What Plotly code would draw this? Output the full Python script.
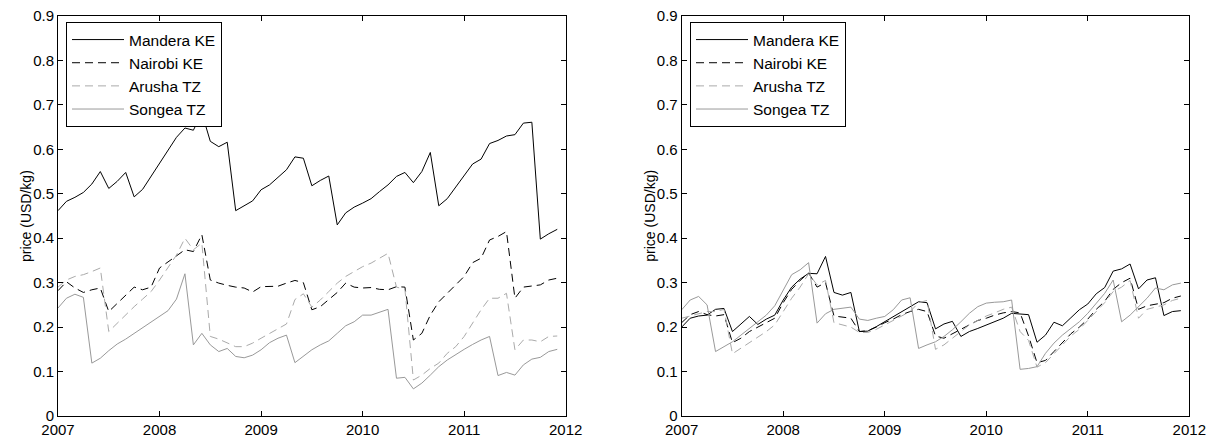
import plotly.graph_objects as go

# monthly observations Jan 2007 .. Dec 2011
months = [2007 + m / 12 for m in range(60)]
series_names = ["Mandera KE", "Nairobi KE", "Arusha TZ", "Songea TZ"]
x_tick_vals = [2007, 2008, 2009, 2010, 2011, 2012]
x_tick_text = ["2007", "2008", "2009", "2010", "2011", "2012"]
y_tick_vals = [0, 0.1, 0.2, 0.3, 0.4, 0.5, 0.6, 0.7, 0.8, 0.9]
y_tick_text = ["0", "0.1", "0.2", "0.3", "0.4", "0.5", "0.6", "0.7", "0.8", "0.9"]

# left panel
mandera_left = [0.462, 0.483, 0.492, 0.503, 0.522, 0.55, 0.512, 0.528, 0.548, 0.493,
                0.51, 0.539, 0.57, 0.597, 0.627, 0.648, 0.643, 0.682, 0.618, 0.606,
                0.616, 0.462, 0.473, 0.484, 0.509, 0.52, 0.537, 0.554, 0.583, 0.58,
                0.518, 0.53, 0.54, 0.43, 0.457, 0.47, 0.479, 0.489, 0.505, 0.52,
                0.539, 0.548, 0.525, 0.55, 0.593, 0.473, 0.489, 0.515, 0.539, 0.567,
                0.578, 0.613, 0.62, 0.63, 0.633, 0.659, 0.661, 0.398, 0.41, 0.42]
nairobi_left = [0.282, 0.302, 0.288, 0.278, 0.284, 0.288, 0.235, 0.254, 0.272, 0.29,
                0.284, 0.29, 0.333, 0.347, 0.362, 0.374, 0.37, 0.408, 0.306, 0.299,
                0.294, 0.29, 0.288, 0.279, 0.291, 0.292, 0.292, 0.299, 0.305, 0.30,
                0.239, 0.246, 0.261, 0.278, 0.299, 0.29, 0.288, 0.289, 0.285, 0.284,
                0.291, 0.29, 0.171, 0.186, 0.227, 0.257, 0.276, 0.295, 0.314, 0.345,
                0.355, 0.396, 0.404, 0.415, 0.265, 0.29, 0.293, 0.295, 0.306, 0.31]
arusha_left = [0.29, 0.306, 0.314, 0.318, 0.325, 0.333, 0.19, 0.209, 0.227, 0.246,
               0.263, 0.28, 0.306, 0.333, 0.362, 0.40, 0.374, 0.389, 0.179, 0.173,
               0.164, 0.156, 0.156, 0.164, 0.175, 0.186, 0.197, 0.207, 0.262, 0.275,
               0.245, 0.261, 0.28, 0.299, 0.314, 0.325, 0.336, 0.344, 0.355, 0.366,
               0.29, 0.285, 0.081, 0.092, 0.107, 0.119, 0.141, 0.156, 0.179, 0.209,
               0.239, 0.265, 0.265, 0.276, 0.149, 0.171, 0.171, 0.167, 0.179, 0.18]
songea_left = [0.243, 0.265, 0.274, 0.267, 0.119, 0.13, 0.147, 0.162, 0.173, 0.186,
               0.197, 0.21, 0.224, 0.237, 0.263, 0.32, 0.16, 0.186, 0.16, 0.145,
               0.152, 0.134, 0.131, 0.137, 0.149, 0.165, 0.175, 0.182, 0.12, 0.134,
               0.149, 0.16, 0.169, 0.186, 0.203, 0.212, 0.227, 0.227, 0.233, 0.24,
               0.085, 0.087, 0.061, 0.074, 0.092, 0.111, 0.126, 0.139, 0.15, 0.161,
               0.171, 0.179, 0.091, 0.098, 0.092, 0.115, 0.128, 0.132, 0.145, 0.15]

# right panel
mandera_right = [0.20, 0.22, 0.225, 0.227, 0.24, 0.242, 0.19, 0.207, 0.224, 0.206,
                 0.218, 0.227, 0.261, 0.29, 0.308, 0.321, 0.32, 0.359, 0.278, 0.272,
                 0.278, 0.19, 0.191, 0.201, 0.212, 0.224, 0.235, 0.246, 0.257, 0.255,
                 0.196, 0.207, 0.213, 0.179, 0.19, 0.197, 0.205, 0.212, 0.22, 0.231,
                 0.23, 0.228, 0.166, 0.182, 0.211, 0.203, 0.221, 0.239, 0.252, 0.275,
                 0.289, 0.326, 0.331, 0.342, 0.286, 0.306, 0.311, 0.226, 0.235, 0.237]
nairobi_right = [0.21, 0.228, 0.235, 0.228, 0.225, 0.228, 0.165, 0.175, 0.19, 0.20,
                 0.21, 0.22, 0.255, 0.285, 0.305, 0.322, 0.29, 0.30, 0.225, 0.222,
                 0.22, 0.19, 0.192, 0.20, 0.21, 0.218, 0.228, 0.235, 0.24, 0.235,
                 0.18, 0.175, 0.185, 0.195, 0.205, 0.215, 0.22, 0.227, 0.232, 0.235,
                 0.232, 0.18, 0.12, 0.125, 0.145, 0.165, 0.185, 0.20, 0.218, 0.24,
                 0.258, 0.285, 0.30, 0.31, 0.24, 0.248, 0.252, 0.255, 0.265, 0.27]
arusha_right = [0.22, 0.225, 0.23, 0.235, 0.235, 0.24, 0.14, 0.152, 0.165, 0.178,
                0.19, 0.205, 0.235, 0.265, 0.29, 0.32, 0.295, 0.305, 0.21, 0.205,
                0.20, 0.188, 0.188, 0.195, 0.205, 0.215, 0.225, 0.235, 0.255, 0.26,
                0.15, 0.16, 0.175, 0.19, 0.205, 0.215, 0.225, 0.232, 0.24, 0.245,
                0.19, 0.17, 0.11, 0.12, 0.14, 0.16, 0.18, 0.195, 0.215, 0.235,
                0.255, 0.28, 0.29, 0.305, 0.22, 0.24, 0.245, 0.25, 0.26, 0.265]
songea_right = [0.239, 0.261, 0.269, 0.25, 0.145, 0.156, 0.167, 0.182, 0.197, 0.212,
                0.227, 0.248, 0.284, 0.318, 0.329, 0.345, 0.209, 0.23, 0.24, 0.242,
                0.245, 0.218, 0.215, 0.22, 0.224, 0.239, 0.261, 0.266, 0.152, 0.16,
                0.167, 0.179, 0.194, 0.212, 0.231, 0.246, 0.254, 0.256, 0.257, 0.261,
                0.105, 0.107, 0.111, 0.141, 0.164, 0.182, 0.197, 0.212, 0.231, 0.254,
                0.276, 0.306, 0.212, 0.227, 0.246, 0.265, 0.288, 0.284, 0.295, 0.299]

FONT = "Liberation Sans, Arial, Helvetica, sans-serif"
styles = [dict(color="#000000", dash="solid"),
          dict(color="#000000", dash="8px,5px"),
          dict(color="#aaaaaa", dash="8px,5px"),
          dict(color="#999999", dash="solid")]

fig = go.Figure()
panels = [("x", "y", "legend", [mandera_left, nairobi_left, arusha_left, songea_left]),
          ("x2", "y2", "legend2", [mandera_right, nairobi_right, arusha_right, songea_right])]
for xa, ya, lg, data in panels:
    for name, vals, st in zip(series_names, data, styles):
        fig.add_trace(go.Scatter(x=months, y=vals, mode="lines", name=name,
                                 xaxis=xa, yaxis=ya, legend=lg,
                                 line=dict(color=st["color"], dash=st["dash"], width=1)))

W, H = 1209, 438
left_dom = [58 / W, 565.7 / W]
right_dom = [681.7 / W, 1189.3 / W]
y_dom = [(H - 416) / H, (H - 16) / H]

axis_common = dict(showline=True, linecolor="#000000", linewidth=1, mirror="ticks",
                   ticks="inside", ticklen=5, tickcolor="#000000", showgrid=False,
                   zeroline=False, automargin=False,
                   tickfont=dict(family=FONT, size=15, color="#000000"))
xaxis_common = dict(axis_common, range=[2007, 2012], tickmode="array",
                    tickvals=x_tick_vals, ticktext=x_tick_text)
yaxis_common = dict(axis_common, range=[0, 0.9], tickmode="array",
                    tickvals=y_tick_vals, ticktext=y_tick_text)

legend_common = dict(bgcolor="#ffffff", bordercolor="#000000", borderwidth=1,
                     font=dict(family=FONT, size=15.5, color="#000000"),
                     xanchor="left", yanchor="top", tracegroupgap=0,
                     itemwidth=52, itemclick=False)

fig.update_layout(
    width=W, height=H, margin=dict(l=0, r=0, t=0, b=0),
    paper_bgcolor="#ffffff", plot_bgcolor="#ffffff",
    font=dict(family=FONT, size=15, color="#000000"),
    xaxis=dict(xaxis_common, domain=left_dom, anchor="y"),
    yaxis=dict(yaxis_common, domain=y_dom, anchor="x"),
    xaxis2=dict(xaxis_common, domain=right_dom, anchor="y2"),
    yaxis2=dict(yaxis_common, domain=y_dom, anchor="x2"),
    legend=dict(legend_common, x=66 / W, y=(H - 22) / H),
    legend2=dict(legend_common, x=690 / W, y=(H - 22) / H),
    annotations=[
        dict(text="price (USD/kg)", textangle=-90, xref="paper", yref="paper",
             x=26 / W, y=(H - 216) / H, xanchor="center", yanchor="middle",
             showarrow=False, font=dict(family=FONT, size=14, color="#000000")),
        dict(text="price (USD/kg)", textangle=-90, xref="paper", yref="paper",
             x=649.7 / W, y=(H - 216) / H, xanchor="center", yanchor="middle",
             showarrow=False, font=dict(family=FONT, size=14, color="#000000")),
    ],
)

fig.write_html("out.html")
